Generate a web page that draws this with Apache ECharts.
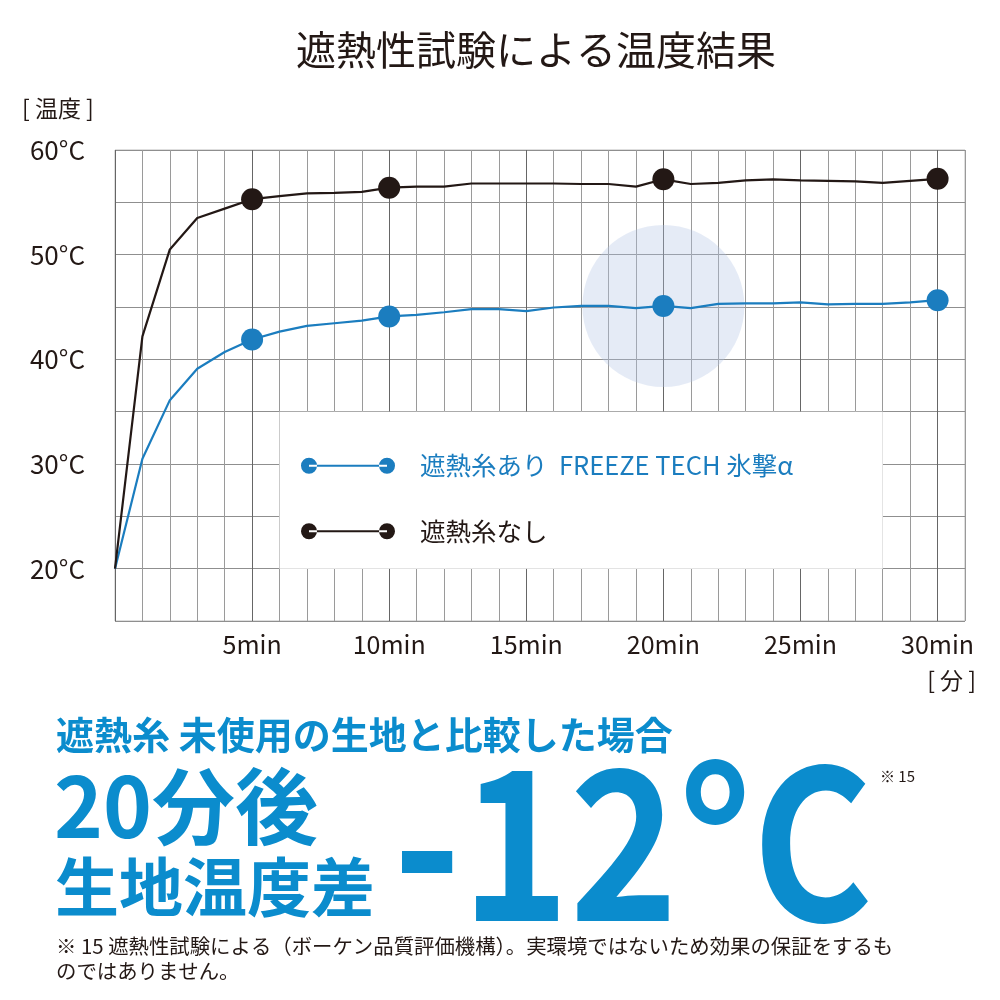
<!DOCTYPE html>
<html><head><meta charset="utf-8">
<script src="https://cdn.jsdelivr.net/npm/echarts@6/dist/echarts.min.js"></script>
<style>html,body{margin:0;padding:0;background:#fff}#c{width:1000px;height:1000px}</style>
</head><body><div id="c"></div>
<script>
const minutes = [0,1,2,3,4,5,6,7,8,9,10,11,12,13,14,15,16,17,18,19,20,21,22,23,24,25,26,27,28,29,30];
const withThread = [20,30.5,36.1,39.1,40.7,41.9,42.65,43.2,43.45,43.7,44.1,44.25,44.5,44.8,44.8,44.6,44.95,45.1,45.1,44.9,45.1,44.9,45.3,45.35,45.35,45.45,45.25,45.3,45.3,45.45,45.65];
const withoutThread = [20,42.2,50.5,53.5,54.4,55.3,55.6,55.85,55.9,56.0,56.4,56.5,56.5,56.8,56.8,56.8,56.8,56.75,56.75,56.5,57.2,56.75,56.85,57.1,57.2,57.1,57.05,57.0,56.85,57.05,57.25];
const markerMinutes = [5,10,20,30];
const seriesNames = ['遮熱糸あり  FREEZE TECH 氷撃α', '遮熱糸なし'];
const highlightPoint = [20, 45.1];
const legendBox = [[6,35],[28,20]];

const BLUE = '#1b7dbf', BLACK = '#231815', BIG = '#0b8ccd';
const FONT = '"Noto Sans CJK JP", "Noto Sans", sans-serif';
const legendIcon = 'path://M0,8 a8,8 0 1,0 16,0 a8,8 0 1,0 -16,0 Z M78,8 a8,8 0 1,0 16,0 a8,8 0 1,0 -16,0 Z M8,6.9 L86,6.9 L86,9.1 L8,9.1 Z';

const chart = echarts.init(document.getElementById('c'), null, {renderer:'canvas'});
const sym = v => markerMinutes.indexOf(v[0]) >= 0 ? 22 : 0;
chart.setOption({
  animation:false,
  backgroundColor:'#fff',
  grid:{left:115, top:150, right:35, bottom:379, show:true, borderColor:'#bdbdbd', borderWidth:1},
  xAxis:{type:'value', min:0, max:31, interval:1,
    axisLine:{show:false}, axisTick:{show:false},
    axisLabel:{margin:11, fontFamily:FONT, fontSize:25, color:BLACK,
      formatter:v => (v>0 && v%5===0) ? v+'min' : ''},
    splitLine:{show:true, lineStyle:{width:1, color:['#666','#9a9a9a','#9a9a9a','#9a9a9a','#9a9a9a']}}},
  yAxis:{type:'value', min:15, max:60, interval:5,
    axisLine:{show:false}, axisTick:{show:false},
    axisLabel:{margin:30, fontFamily:FONT, fontSize:26, color:BLACK, padding:[10,0,0,0],
      formatter:v => v%10===0 ? v+'°C' : ''},
    splitLine:{show:true, lineStyle:{width:1, color:'#8f8f8f'}}},
  legend:{orient:'vertical', left:296, top:448, itemWidth:94, itemHeight:16, itemGap:40,
    itemStyle:{borderWidth:0},
    textStyle:{fontFamily:FONT, fontSize:25.5, padding:[0,0,0,20]},
    data:[
      {name:seriesNames[0], icon:legendIcon, textStyle:{color:BLUE}},
      {name:seriesNames[1], icon:legendIcon, textStyle:{color:BLACK}}
    ]},
  series:[
    {type:'scatter', silent:true, z:1, data:[highlightPoint], symbolSize:162,
      itemStyle:{color:'rgba(178,196,228,0.42)'},
      markArea:{silent:true, itemStyle:{color:'#fff', opacity:1},
        data:[[{coord:legendBox[0]},{coord:legendBox[1]}]]}},
    {name:seriesNames[0], type:'line', z:3, data:minutes.map((m,i)=>[m,withThread[i]]),
      symbol:'circle', symbolSize:sym, showAllSymbol:true,
      lineStyle:{color:BLUE, width:2.2}, itemStyle:{color:BLUE}},
    {name:seriesNames[1], type:'line', z:3, data:minutes.map((m,i)=>[m,withoutThread[i]]),
      symbol:'circle', symbolSize:sym, showAllSymbol:true,
      lineStyle:{color:BLACK, width:2.2}, itemStyle:{color:BLACK}}
  ],
  graphic:[
    {type:'text', x:536, y:50, style:{text:'遮熱性試験による温度結果', font:'40px '+FONT, fill:BLACK, textAlign:'center', textVerticalAlign:'middle'}},
    {type:'text', x:22, y:108, style:{text:'[ 温度 ]', font:'23px '+FONT, fill:BLACK, textAlign:'left', textVerticalAlign:'middle'}},
    {type:'text', x:976, y:680, style:{text:'[ 分 ]', font:'23px '+FONT, fill:BLACK, textAlign:'right', textVerticalAlign:'middle'}},
    {type:'text', x:56, y:735, style:{text:'遮熱糸 未使用の生地と比較した場合', font:'bold 38px '+FONT, fill:BIG, textAlign:'left', textVerticalAlign:'middle'}},
    {type:'text', x:54, y:806, style:{text:'20分後', font:'bold 83px '+FONT, fill:BIG, textAlign:'left', textVerticalAlign:'middle'}},
    {type:'text', x:55, y:887, style:{text:'生地温度差', font:'bold 64px '+FONT, fill:BIG, textAlign:'left', textVerticalAlign:'middle'}},
    {type:'text', x:393, y:842, scaleX:0.884, style:{text:'-12°C', font:'bold 208px '+FONT, fill:BIG, textAlign:'left', textVerticalAlign:'middle'}},
    {type:'text', x:880, y:776, style:{text:'※ 15', font:'15px '+FONT, fill:BLACK, textAlign:'left', textVerticalAlign:'middle'}},
    {type:'text', x:56, y:946, style:{text:'※ 15 遮熱性試験による（ボーケン品質評価機構）。実環境ではないため効果の保証をするも', font:'20.4px '+FONT, fill:BLACK, textAlign:'left', textVerticalAlign:'middle'}},
    {type:'text', x:56, y:971, style:{text:'のではありません。', font:'20.4px '+FONT, fill:BLACK, textAlign:'left', textVerticalAlign:'middle'}}
  ]
});
</script></body></html>
